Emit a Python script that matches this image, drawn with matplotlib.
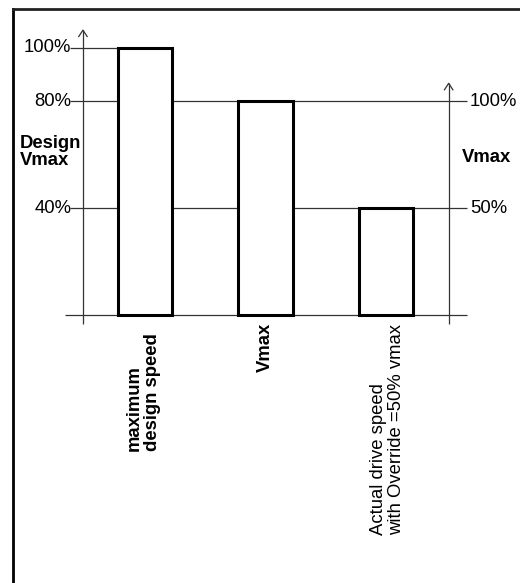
import matplotlib
matplotlib.use("Agg")
import matplotlib.pyplot as plt
from matplotlib.lines import Line2D

plt.rcParams['font.family'] = ['Liberation Sans', 'DejaVu Sans']

# Bars, in percent of the design maximum speed (left axis)
categories = ["maximum\ndesign speed", "Vmax", "Actual drive speed\nwith Override =50% vmax"]
values = [100, 80, 40]
label_bold = [True, True, False]

# Left axis ticks (design Vmax) and right axis ticks (Vmax)
left_ticks = [100, 80, 40]
left_tick_labels = ["100%", "80%", "40%"]
right_ticks = [100, 50]
right_tick_labels = ["100%", "50%"]
right_scale = 0.8  # Vmax = 80% of design Vmax

FS = 13.3

fig = plt.figure(figsize=(5.2, 5.83), dpi=100)
ax = fig.add_axes([0, 0, 1, 1])
ax.set_xlim(-1.2033, 3.112)
ax.set_ylim(-100.19, 117.76)
ax.axis("off")

# Frame on the left and top edges
fig.add_artist(Line2D([13 / 520, 13 / 520], [0, 1 - 9 / 583], color="black", lw=2.0,
                      transform=fig.transFigure))
fig.add_artist(Line2D([13 / 520, 1], [1 - 9 / 583, 1 - 9 / 583], color="#222222", lw=2.0,
                      transform=fig.transFigure))

thin = dict(color="#333333", lw=0.9, solid_capstyle="butt")
x_axis_left, x_axis_right = -0.515, 2.52
x_line_start, x_line_end = -0.623, 2.67
bar_width = 0.45
xs = list(range(len(values)))

# Baseline
ax.plot([-0.664, x_line_end], [0, 0], **thin)

# Horizontal reference lines
for v in left_ticks:
    end = xs[0] - bar_width / 2 if v == max(left_ticks) else x_line_end
    ax.plot([x_line_start, end], [v, v], **thin, zorder=1)

# Vertical axes with open arrowheads
def arrow_axis(x, top):
    ax.plot([x, x], [-3.4, top], **thin)
    ax.plot([x - 0.035, x, x + 0.035], [top - 2.4, top, top - 2.4], color="#333333", lw=0.9)

arrow_axis(x_axis_left, 106.5)
arrow_axis(x_axis_right, 86.6)

# Bars
ax.bar(xs, values, width=bar_width, facecolor="white", edgecolor="black", linewidth=2.2, zorder=2)

# Left tick labels
for v, t in zip(left_ticks, left_tick_labels):
    ax.text(-0.61, v, t, ha="right", va="center", fontsize=FS)
ax.text(-1.04, 61.0, "Design\nVmax", ha="left", va="center", fontsize=FS,
        fontweight="bold", linespacing=1.0)

# Right tick labels
for v, t in zip(right_ticks, right_tick_labels):
    ax.text(2.695, v * right_scale, t, ha="left", va="center", fontsize=FS)
ax.text(2.63, 59.0, "Vmax", ha="left", va="center", fontsize=FS, fontweight="bold")

# Category labels, rotated under the bars
label_tops = [-6.7, -3.0, -3.4]
label_dx = [-0.012, 0.0, 0.015]
for x, dx, top, t, b in zip(xs, label_dx, label_tops, categories, label_bold):
    ax.text(x + dx, top, t, rotation=90,
            ha="center", va="top", fontsize=FS, multialignment="left",
            fontweight="bold" if b else "normal", linespacing=1.05)

fig.savefig("out.png", dpi=100, facecolor="white")
